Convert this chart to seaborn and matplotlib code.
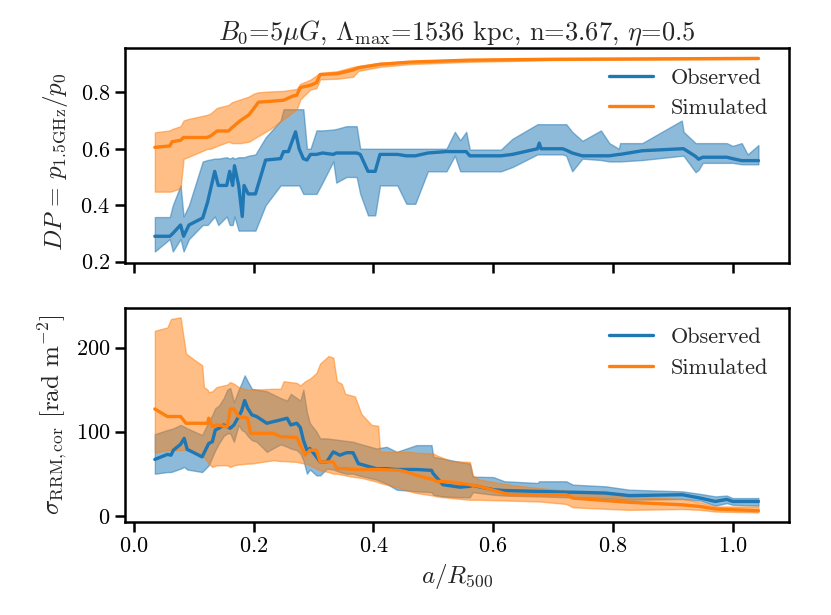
import numpy as np
import pandas as pd
import seaborn as sns
import matplotlib.pyplot as plt

# ---- top panel: degree of polarisation ----
dp_obs_x = [0.035, 0.060, 0.065, 0.078, 0.083, 0.092, 0.115, 0.123, 0.135, 0.141,
            0.155, 0.160, 0.165, 0.168, 0.175, 0.181, 0.184, 0.191, 0.203, 0.220,
            0.245, 0.250, 0.258, 0.270, 0.276, 0.283, 0.289, 0.295, 0.305, 0.315,
            0.333, 0.338, 0.355, 0.372, 0.378, 0.391, 0.403, 0.411, 0.440, 0.455,
            0.470, 0.491, 0.522, 0.536, 0.545, 0.555, 0.561, 0.613, 0.632, 0.674,
            0.677, 0.680, 0.716, 0.722, 0.732, 0.749, 0.780, 0.794, 0.810, 0.812,
            0.849, 0.915, 0.918, 0.938, 0.943, 0.950, 0.990, 1.000, 1.015, 1.025,
            1.043]
dp_obs = [0.29, 0.29, 0.30, 0.33, 0.29, 0.33, 0.355, 0.41, 0.52, 0.47,
          0.47, 0.52, 0.47, 0.54, 0.47, 0.36, 0.47, 0.44, 0.44, 0.56,
          0.565, 0.59, 0.59, 0.66, 0.60, 0.565, 0.56, 0.58, 0.58, 0.585,
          0.58, 0.585, 0.585, 0.585, 0.58, 0.52, 0.52, 0.58, 0.58, 0.575,
          0.575, 0.585, 0.59, 0.59, 0.59, 0.59, 0.575, 0.575, 0.58, 0.60,
          0.62, 0.60, 0.60, 0.595, 0.585, 0.575, 0.575, 0.575, 0.58, 0.58,
          0.593, 0.60, 0.60, 0.573, 0.563, 0.57, 0.57, 0.565, 0.558, 0.558,
          0.558]
dp_obs_lo = [0.236, 0.28, 0.236, 0.28, 0.236, 0.28, 0.33, 0.33, 0.36, 0.33,
             0.36, 0.33, 0.33, 0.36, 0.31, 0.31, 0.31, 0.31, 0.31, 0.40,
             0.47, 0.47, 0.47, 0.47, 0.47, 0.44, 0.44, 0.44, 0.44, 0.48,
             0.555, 0.48, 0.50, 0.50, 0.44, 0.364, 0.364, 0.47, 0.47, 0.405,
             0.405, 0.52, 0.52, 0.575, 0.52, 0.52, 0.52, 0.52, 0.535, 0.58,
             0.58, 0.58, 0.58, 0.575, 0.52, 0.565, 0.56, 0.555, 0.555, 0.555,
             0.56, 0.575, 0.575, 0.517, 0.525, 0.55, 0.55, 0.55, 0.545, 0.545,
             0.545]
dp_obs_hi = [0.358, 0.358, 0.40, 0.47, 0.36, 0.40, 0.555, 0.56, 0.565, 0.565,
             0.57, 0.565, 0.57, 0.565, 0.57, 0.57, 0.57, 0.575, 0.58, 0.64,
             0.70, 0.74, 0.74, 0.74, 0.74, 0.74, 0.60, 0.60, 0.665, 0.665,
             0.668, 0.67, 0.68, 0.68, 0.60, 0.60, 0.60, 0.60, 0.60, 0.60,
             0.60, 0.60, 0.60, 0.66, 0.63, 0.66, 0.597, 0.597, 0.635, 0.687,
             0.687, 0.687, 0.687, 0.687, 0.66, 0.628, 0.665, 0.62, 0.60, 0.62,
             0.62, 0.70, 0.66, 0.62, 0.62, 0.62, 0.62, 0.61, 0.62, 0.58,
             0.613]

dp_sim_x = [0.035, 0.060, 0.064, 0.078, 0.083, 0.090, 0.122, 0.128, 0.139, 0.158,
            0.164, 0.178, 0.192, 0.200, 0.208, 0.228, 0.250, 0.266, 0.272, 0.278,
            0.295, 0.305, 0.311, 0.340, 0.366, 0.375, 0.411, 0.461, 0.561, 0.700,
            1.043]
dp_sim = [0.605, 0.61, 0.625, 0.63, 0.64, 0.64, 0.64, 0.645, 0.663, 0.663,
          0.675, 0.70, 0.72, 0.742, 0.765, 0.768, 0.772, 0.787, 0.79, 0.817,
          0.825, 0.834, 0.863, 0.866, 0.879, 0.887, 0.899, 0.907, 0.914, 0.917,
          0.92]
dp_sim_lo = [0.448, 0.448, 0.45, 0.46, 0.564, 0.57, 0.599, 0.60, 0.61, 0.625,
             0.62, 0.62, 0.625, 0.635, 0.645, 0.67, 0.705, 0.73, 0.74, 0.775,
             0.81, 0.815, 0.846, 0.848, 0.855, 0.876, 0.89, 0.90, 0.908, 0.914,
             0.918]
dp_sim_hi = [0.658, 0.665, 0.67, 0.68, 0.70, 0.705, 0.72, 0.725, 0.745, 0.755,
             0.765, 0.775, 0.785, 0.795, 0.80, 0.803, 0.805, 0.81, 0.812, 0.83,
             0.845, 0.86, 0.868, 0.875, 0.89, 0.893, 0.905, 0.91, 0.917, 0.919,
             0.921]

# ---- bottom panel: corrected RRM dispersion ----
rm_obs_x = [0.035, 0.056, 0.062, 0.066, 0.078, 0.084, 0.089, 0.114, 0.125, 0.131,
            0.136, 0.142, 0.150, 0.156, 0.161, 0.167, 0.175, 0.180, 0.185, 0.190,
            0.197, 0.205, 0.222, 0.245, 0.256, 0.262, 0.272, 0.278, 0.283, 0.289,
            0.294, 0.305, 0.311, 0.322, 0.333, 0.344, 0.355, 0.366, 0.375, 0.405,
            0.422, 0.439, 0.472, 0.497, 0.500, 0.516, 0.544, 0.561, 0.566, 0.600,
            0.619, 0.674, 0.677, 0.722, 0.733, 0.788, 0.827, 0.916, 0.946, 0.971,
            0.990, 1.000, 1.043]
rm_obs = [67, 73, 72, 78, 85, 92, 79, 70, 86, 88,
          102, 104, 108, 106, 104, 108, 118, 125, 137, 128,
          120, 118, 110, 114, 116, 108, 110, 105, 90, 78,
          80, 70, 64, 64, 76, 72, 75, 75, 62, 56,
          56, 55, 55, 54, 50, 37, 34, 35, 36, 31,
          30, 29, 29, 28, 28, 27, 24, 25, 21, 17,
          19.5, 17, 17]
rm_obs_lo = [50, 52, 52, 53, 56, 58, 55, 52, 60, 70,
             78, 86, 95, 98, 98, 88, 108, 102, 100, 95,
             90, 88, 76, 85, 82, 80, 78, 74, 66, 50,
             55, 48, 48, 56, 55, 52, 50, 50, 48, 43,
             38, 31, 29, 28, 25, 23, 22, 22, 28, 25,
             24, 23, 23, 22, 22, 21, 19, 20, 18, 12,
             15, 13, 12]
rm_obs_hi = [97, 102, 103, 104, 108, 106, 104, 96, 112, 120,
             128, 131, 140, 150, 152, 135, 150, 158, 167, 160,
             151, 150, 148, 140, 137, 145, 140, 137, 150, 123,
             110, 100, 92, 92, 91, 90, 89, 88, 86, 80,
             82, 76, 84, 84, 70, 68, 64, 62, 46.5, 46,
             41, 39, 41, 41, 37, 35, 31, 29, 26, 23,
             24, 21, 21]

rm_sim_x = [0.035, 0.056, 0.062, 0.078, 0.087, 0.100, 0.114, 0.117, 0.123, 0.125,
            0.131, 0.138, 0.156, 0.161, 0.167, 0.175, 0.190, 0.195, 0.233, 0.245,
            0.250, 0.272, 0.278, 0.286, 0.294, 0.305, 0.311, 0.325, 0.333, 0.339,
            0.347, 0.353, 0.369, 0.380, 0.397, 0.408, 0.411, 0.444, 0.461, 0.472,
            0.500, 0.505, 0.530, 0.561, 0.566, 0.577, 0.627, 0.677, 0.722, 0.733,
            0.827, 0.916, 0.946, 0.971, 1.043]
rm_sim = [127, 118, 118, 118, 110, 110, 110, 110, 110, 116,
          106, 108, 106, 127, 127, 118, 116, 98, 98, 94,
          94, 93, 84, 72, 78, 78, 64, 64, 64, 56,
          56, 56, 55, 55, 55, 55, 55, 54, 51, 48,
          43, 41, 40, 37, 36, 35, 25, 25, 25, 21,
          16, 13, 11, 8, 6]
rm_sim_lo = [75, 78, 78, 78, 78, 76, 72, 70, 64, 62,
             58, 60, 60, 58, 60, 61, 62, 62, 66, 65,
             65, 64, 63, 62, 60, 56, 54, 52, 50, 50,
             49, 48, 46, 45, 42, 40, 39, 33, 29, 27,
             24, 23, 21, 19, 19, 19, 18, 17, 14, 10,
             7, 8, 7, 5, 4]
rm_sim_hi = [220, 224, 234, 236, 193, 186, 179, 153, 150, 147,
             148, 153, 156, 159, 157, 153, 150, 150, 151, 151,
             160, 158, 155, 160, 163, 170, 181, 190, 188, 160,
             157, 145, 142, 121, 108, 107, 76, 76, 76, 75,
             74, 72, 65, 64, 48, 43, 37, 33, 30, 29,
             23, 20, 16, 11, 11]

sns.set_theme(style="ticks")
plt.rcParams.update({
    "font.family": ["serif"],
    "font.serif": ["cmr10", "DejaVu Serif"],
    "mathtext.fontset": "cm",
    "axes.formatter.use_mathtext": True,
    "axes.linewidth": 1.8,
    "xtick.major.width": 1.8,
    "ytick.major.width": 1.8,
    "xtick.major.size": 7,
    "ytick.major.size": 7,
    "xtick.labelsize": 16,
    "ytick.labelsize": 16,
    "axes.labelsize": 18,
    "legend.fontsize": 16,
    "axes.edgecolor": "black",
    "xtick.color": "black",
    "ytick.color": "black",
})

blue, orange = "#1f77b4", "#ff7f0e"

fig, (ax1, ax2) = plt.subplots(2, 1, figsize=(8.31, 6.15), dpi=100, sharex=True)
fig.subplots_adjust(left=0.150, right=0.949, top=0.922, bottom=0.151, hspace=0.21)


def draw(ax, x, y, lo, hi, color, label):
    df = pd.DataFrame({"x": x, "y": y})
    sns.lineplot(data=df, x="x", y="y", ax=ax, color=color, lw=2.4,
                 label=label, estimator=None, sort=False)
    ax.fill_between(x, lo, hi, color=color, alpha=0.5, lw=1)


draw(ax1, dp_obs_x, dp_obs, dp_obs_lo, dp_obs_hi, blue, "Observed")
draw(ax1, dp_sim_x, dp_sim, dp_sim_lo, dp_sim_hi, orange, "Simulated")
draw(ax2, rm_obs_x, rm_obs, rm_obs_lo, rm_obs_hi, blue, "Observed")
draw(ax2, rm_sim_x, rm_sim, rm_sim_lo, rm_sim_hi, orange, "Simulated")

ax1.set_ylabel(r"$DP\,=\,p_{1.5\mathrm{GHz}}/p_0$", y=0.47)
ax1.set_xlabel("")
ax2.set_ylabel(r"$\sigma_{\mathrm{RRM,cor}}$ [rad m$^{-2}$]")
ax2.set_xlabel(r"$a/R_{500}$")
ax1.set_title(r"$B_0$=5$\mu G$, $\Lambda_{\mathrm{max}}$=1536 kpc, n=3.67, $\eta$=0.5",
              fontsize=19)
ax1.set_ylim(0.197, 0.957)
ax1.set_yticks([0.2, 0.4, 0.6, 0.8])
ax2.set_yticks([0, 100, 200])

for ax in (ax1, ax2):
    ax.legend(loc="upper right", frameon=False)

fig.align_ylabels([ax1, ax2])
fig.savefig("out.png", dpi=100)
